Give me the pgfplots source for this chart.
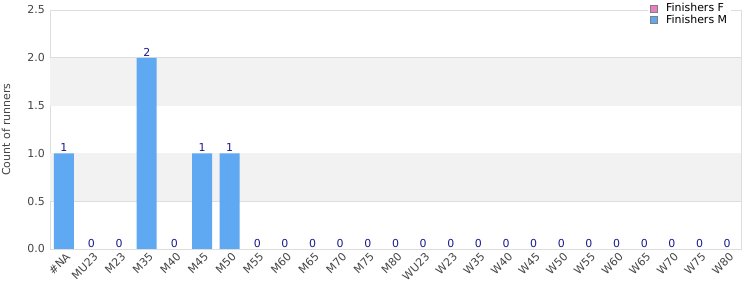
\documentclass[border=0pt]{standalone}
\usepackage{pgfplots}
\pgfplotsset{compat=1.18}
\usepackage{fontspec}
\setmainfont{DejaVu Sans}
\definecolor{barM}{HTML}{5FA8F2}
\definecolor{barF}{HTML}{E87FC0}
\definecolor{band}{HTML}{F2F2F2}
\definecolor{gridc}{HTML}{DDDDDD}
\definecolor{navy}{HTML}{1A1A8C}
\definecolor{tickc}{HTML}{444444}
\begin{document}
\begin{tikzpicture}
\useasboundingbox (0,0) rectangle (750bp,300bp);
\begin{axis}[
  at={(50bp,51bp)}, anchor=south west,
  scale only axis, width=691bp, height=239bp,
  xmin=-0.5, xmax=24.5, ymin=0, ymax=2.5,
  xtick={0,...,24},
  xticklabels={\#NA,MU23,M23,M35,M40,M45,M50,M55,M60,M65,M70,M75,M80,WU23,W23,W35,W40,W45,W50,W55,W60,W65,W70,W75,W80},
  ytick={0,0.5,1,1.5,2,2.5},
  /pgf/number format/assume math mode=true,
  yticklabel style={/pgf/number format/fixed, /pgf/number format/fixed zerofill, /pgf/number format/precision=1, inner sep=2pt, xshift=-3pt},
  ymajorgrids, grid style={gridc, line width=0.6pt},
  axis line style={gridc, line width=0.8pt},
  major tick length=0pt,
  tick label style={font=\fontsize{11}{13}\selectfont, text=tickc},
  xticklabel style={rotate=45, anchor=north east, inner sep=1pt, yshift=-2pt},
  ylabel={Count of runners},
  every axis y label/.style={at={(rel axis cs:0,0.5)}, rotate=90, anchor=center, yshift=44bp, font=\fontsize{11}{13}\selectfont, text=tickc},
  ybar, bar width=20bp,
  legend style={at={(0.986,1.045)}, anchor=north east, draw=none, fill=white, font=\fontsize{11}{13}\selectfont, row sep=-2pt, inner sep=2pt},
  legend cell align=left,
  legend image code/.code={\draw[#1, draw=gray, line width=0.5pt] (0bp,-3.5bp) rectangle (7bp,3.5bp); \path (14bp,0bp);},
]
\fill[band] (axis cs:-0.5,0.5) rectangle (axis cs:24.5,1.0);
\fill[band] (axis cs:-0.5,1.5) rectangle (axis cs:24.5,2.0);
\addlegendimage{fill=barF}
\addlegendentry{Finishers F}
\addplot[fill=barM, draw=none, nodes near coords, every node near coord/.append style={font=\fontsize{11}{13}\selectfont, text=navy, inner sep=1.5pt}, point meta=explicit symbolic]
  table[meta=lab] {
x y lab
0 1 1
1 0 0
2 0 0
3 2 2
4 0 0
5 1 1
6 1 1
7 0 0
8 0 0
9 0 0
10 0 0
11 0 0
12 0 0
13 0 0
14 0 0
15 0 0
16 0 0
17 0 0
18 0 0
19 0 0
20 0 0
21 0 0
22 0 0
23 0 0
24 0 0
};
\addlegendentry{Finishers M}
\end{axis}
\end{tikzpicture}
\end{document}
